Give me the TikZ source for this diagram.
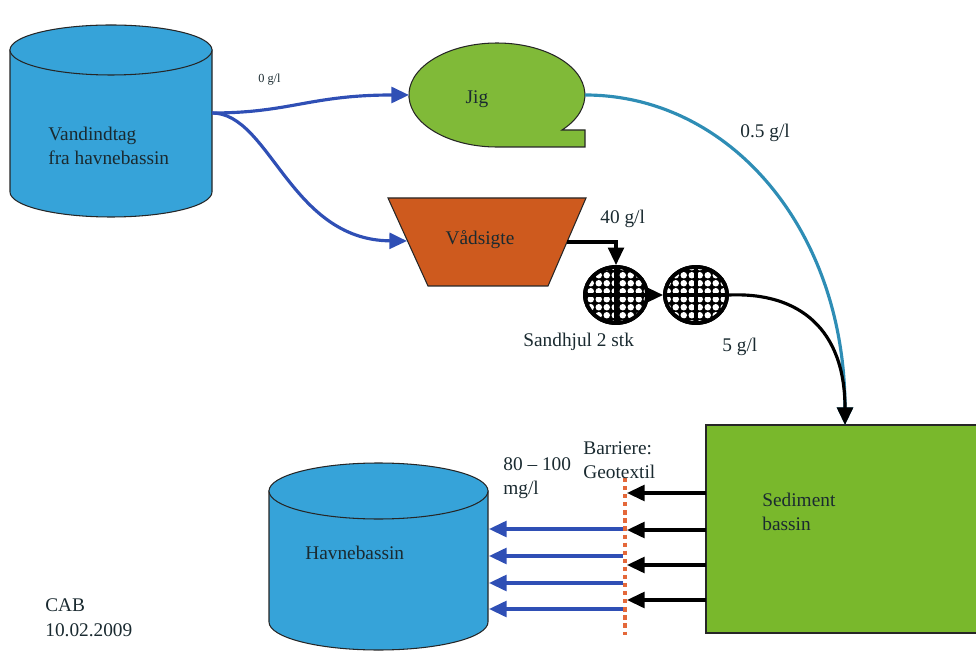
\documentclass[tikz,border=0pt]{standalone}
\usepackage{fontspec}
\setmainfont{Liberation Serif}
\usetikzlibrary{arrows.meta,patterns,shapes.geometric}

\definecolor{tankblue}{HTML}{36A3D9}
\definecolor{jiggreen}{HTML}{80BA38}
\definecolor{sedgreen}{HTML}{79B82C}
\definecolor{sieveorange}{HTML}{CE5A1E}
\definecolor{flowblue}{HTML}{2F4FB5}
\definecolor{flowteal}{HTML}{2E8DB5}
\definecolor{barrierorange}{HTML}{E4683A}
\definecolor{inkdark}{HTML}{1A2A30}

% gravel texture for the sand wheels: white grains on a dark ground
\pgfdeclarepatternformonly{gravel}{\pgfpointorigin}{\pgfpoint{4.4pt}{4.4pt}}{\pgfpoint{4.4pt}{4.4pt}}{
  \pgfpathcircle{\pgfpoint{2.2pt}{2.2pt}}{1.9pt}
  \pgfusepath{fill}
}

\begin{document}
\begin{tikzpicture}[x=0.02cm,y=-0.02cm,
  outline/.style={draw=black!85,line width=0.6pt},
  lbl/.style={font=\fontsize{11}{14}\selectfont,text=inkdark,anchor=west,inner sep=0pt,align=left},
  small/.style={lbl,font=\fontsize{7}{9}\selectfont},
  tip/.style={-{Triangle[length=10pt,width=9pt]}},
  blueflow/.style={tip,draw=flowblue,line width=1.8pt},
  blackflow/.style={tip,draw=black,line width=1.8pt},
  tealflow/.style={tip,draw=flowteal,line width=1.8pt},
  wheel/.style={ellipse,draw=black,line width=2.2pt,minimum width=1.24cm,minimum height=1.12cm,
    inner sep=0pt,fill=black,postaction={pattern=gravel,pattern color=white}},
  spokes/.style={draw=black,line width=2.4pt}
]
\useasboundingbox (0,0) rectangle (976,651);

% Intake tank
\path[outline,fill=tankblue] (10,50) -- (10,192)
  arc[start angle=180,end angle=0,x radius=101,y radius=25] -- (212,50) -- cycle;
\path[outline,fill=tankblue] (111,50) ellipse[x radius=101,y radius=25];
\node[lbl] (intake) at (48,146) {Vandindtag\\fra havnebassin};
\coordinate (intakeout) at (212,113);

% Jig (tape-like shape)
\path[outline,fill=jiggreen] (497,147) -- (585,147) -- (585,130) -- (562,130)
  arc[start angle=42.3,end angle=-270,x radius=88,y radius=52] -- cycle;
\node[lbl,anchor=center] (jig) at (477,99) {Jig};
\coordinate (jigin) at (409,95);
\coordinate (jigout) at (585,95);

% Wet screen
\path[outline,fill=sieveorange] (388,198) -- (586,198) -- (548,286) -- (428,286) -- cycle;
\node[lbl,anchor=center] (sieve) at (480,240) {Vådsigte};
\coordinate (sievein) at (407,241);
\coordinate (sieveout) at (567,242);

% Sand wheels with their cross spokes
\node[wheel] (w1) at (616,295) {};
\node[wheel] (w2) at (696,295) {};
\foreach \w in {w1,w2} {
  \path[spokes] (\w.north) -- (\w.south) (\w.west) -- (\w.east);
  \path[draw=black,line width=2.2pt] (\w.center) ellipse[x radius=31,y radius=28];
}

% Sediment basin
\path[outline,fill=sedgreen] (706,425) rectangle (990,633);
\node[lbl] (sed) at (762,512) {Sediment\\bassin};
\coordinate (sedtop) at (845,425);

% Harbour basin
\path[outline,fill=tankblue] (269,491) -- (269,622)
  arc[start angle=180,end angle=0,x radius=109.5,y radius=28] -- (488,491) -- cycle;
\path[outline,fill=tankblue] (378.5,491) ellipse[x radius=109.5,y radius=28];
\node[lbl] (harbour) at (305,553) {Havnebassin};

% Geotextile barrier
\coordinate (bartop) at (625,478);
\coordinate (barbot) at (625,635);
\draw[barrierorange,line width=2.4pt,dash pattern=on 2.4pt off 2.2pt] (bartop) -- (barbot);

% Flows
\draw[blueflow] (intakeout) .. controls (290,113) and (310,95) .. (jigin);
\draw[blueflow] (intakeout) .. controls (270,113) and (290,240) .. (sievein);
\draw[tealflow] (jigout) .. controls (730,95) and (845,230) .. (sedtop);
\draw[blackflow] (sieveout) -| (w1.north);
\draw[blackflow] (w1.east) -- (w2.west);
\draw[blackflow] (w2.east) .. controls (800,292) and (845,330) .. (sedtop);

\foreach \y [count=\i] in {493,530,565,600} {
  \coordinate (s\i) at (706,\y);
  \coordinate (b\i) at (627,\y);
  \draw[blackflow] (s\i) -- (b\i);
}
\foreach \y [count=\i] in {529,556,583,609} {
  \coordinate (g\i) at (623,\y);
  \coordinate (h\i) at (489,\y);
  \draw[blueflow] (g\i) -- (h\i);
}

% Labels
\node[small] (l0) at (258,80) {0 g/l};
\node[lbl] (l05) at (740,133) {0.5 g/l};
\node[lbl] (l40) at (600,219) {40 g/l};
\node[lbl] (lsand) at (523,342) {Sandhjul 2 stk};
\node[lbl] (l5) at (722,347) {5 g/l};
\node[lbl] (lbar) at (583,460) {Barriere:\\Geotextil};
\node[lbl] (lmg) at (503,478) {80 – 100\\mg/l};
\node[lbl] (lcab) at (45,618) {CAB\\10.02.2009};
\end{tikzpicture}
\end{document}
